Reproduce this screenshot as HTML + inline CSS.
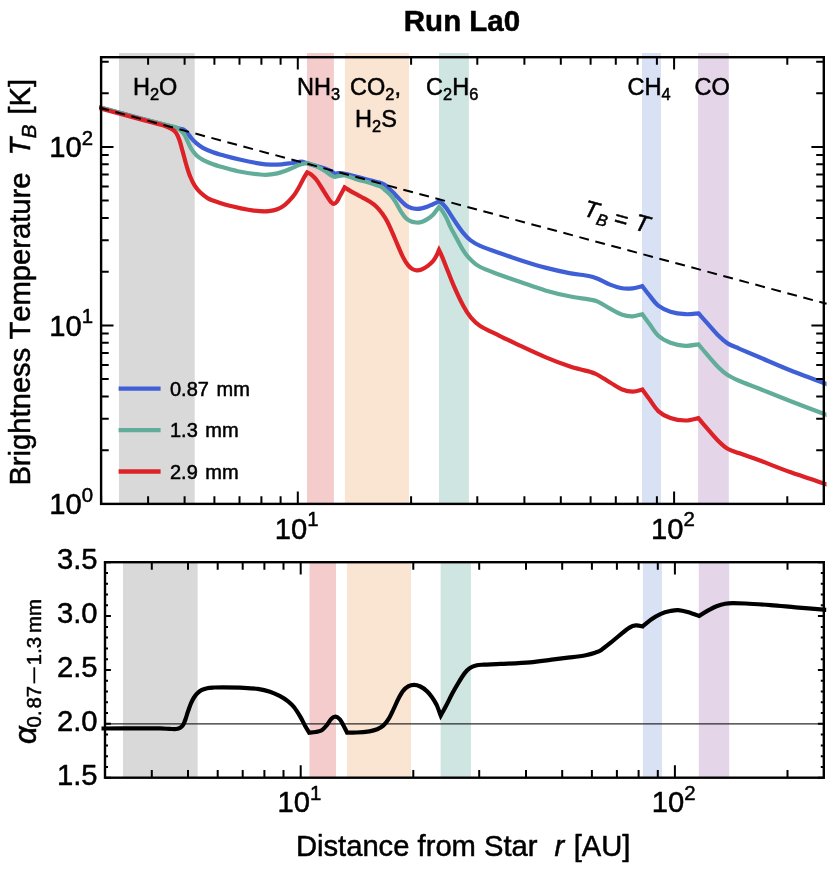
<!DOCTYPE html><html><head><meta charset="utf-8"><title>Run La0</title><style>html,body{margin:0;padding:0;background:#fff}svg{display:block;will-change:transform}text{font-family:"Liberation Sans",sans-serif;fill:#000;font-kerning:none;stroke:#000;stroke-width:0.5px;stroke-linejoin:round}</style></head><body>
<svg width="830" height="872" viewBox="0 0 830 872">
<rect width="830" height="872" fill="#fff"/>
<rect x="119.0" y="53.0" width="75.7" height="450.9" fill="#d9d9d9"/>
<rect x="307.0" y="53.0" width="26.9" height="450.9" fill="#f5cccc"/>
<rect x="344.9" y="53.0" width="64.0" height="450.9" fill="#fae4d2"/>
<rect x="439.0" y="53.0" width="29.9" height="450.9" fill="#cfe5e2"/>
<rect x="642.0" y="53.0" width="19.0" height="450.9" fill="#d9e1f5"/>
<rect x="698.1" y="53.0" width="30.7" height="450.9" fill="#e5d5e9"/>
<rect x="123.0" y="562.2" width="74.6" height="215.5" fill="#d9d9d9"/>
<rect x="309.5" y="562.2" width="26.5" height="215.5" fill="#f5cccc"/>
<rect x="347.1" y="562.2" width="63.9" height="215.5" fill="#fae4d2"/>
<rect x="440.6" y="562.2" width="30.3" height="215.5" fill="#cfe5e2"/>
<rect x="642.9" y="562.2" width="19.0" height="215.5" fill="#d9e1f5"/>
<rect x="698.8" y="562.2" width="30.4" height="215.5" fill="#e5d5e9"/>
<defs><clipPath id="cl"><rect x="99.3" y="40" width="727.2" height="760"/></clipPath></defs>
<path d="M95.3 106.1C102.8 108.1 126.2 114.5 140.0 118.2C153.8 121.9 170.7 126.3 178.0 128.2C185.3 130.1 182.4 129.0 184.0 129.8C185.6 130.7 186.4 131.9 187.7 133.3C188.9 134.7 190.0 136.7 191.5 138.4C193.0 140.1 194.7 141.8 196.6 143.4C198.5 145.0 200.2 146.3 202.9 147.8C205.6 149.3 209.2 150.8 213.0 152.2C216.8 153.6 221.0 154.7 225.6 156.0C230.2 157.3 235.0 158.5 240.7 159.8C246.4 161.1 255.0 162.8 260.0 163.6C265.0 164.4 267.2 164.5 270.8 164.6C274.4 164.7 278.1 164.6 281.7 164.3C285.3 164.0 289.2 163.4 292.5 163.0C295.8 162.6 298.8 161.6 301.2 161.6C303.6 161.6 304.3 162.3 306.6 163.0C308.9 163.7 311.9 164.7 315.0 165.6C318.1 166.5 322.4 167.6 325.0 168.5C327.6 169.4 328.9 170.0 330.5 170.8C332.1 171.6 333.5 173.0 334.8 173.4C336.1 173.8 337.2 173.2 338.5 173.2C339.8 173.2 339.6 172.8 342.4 173.3C345.1 173.8 350.4 175.1 355.0 176.3C359.6 177.5 365.6 179.2 370.0 180.4C374.4 181.6 378.7 182.3 381.4 183.2C384.1 184.1 384.5 184.7 386.0 185.8C387.5 186.9 389.0 188.4 390.6 190.0C392.2 191.6 394.1 193.4 395.8 195.2C397.5 197.0 399.3 199.1 401.0 200.8C402.7 202.5 404.4 204.3 406.1 205.5C407.8 206.7 409.6 207.5 411.3 208.1C413.0 208.7 414.8 208.8 416.5 208.9C418.2 209.0 419.7 208.8 421.6 208.4C423.5 208.0 425.9 207.2 427.8 206.5C429.7 205.8 431.1 205.0 433.0 204.2C434.9 203.3 438.0 201.9 439.0 201.4C439.6 201.8 441.1 202.5 442.3 203.6C443.5 204.7 445.1 206.4 446.4 208.1C447.7 209.8 448.4 211.2 450.0 213.7C451.6 216.2 453.9 219.8 456.1 223.0C458.3 226.2 461.0 230.2 463.4 233.1C465.8 236.0 467.8 238.3 470.6 240.4C473.4 242.5 475.4 243.8 480.2 245.9C485.0 248.0 492.7 250.7 499.5 253.1C506.3 255.5 513.6 258.0 521.2 260.4C528.8 262.8 537.3 265.5 545.3 267.6C553.3 269.7 562.2 271.7 569.4 273.1C576.6 274.5 583.9 275.0 588.7 276.0C593.5 277.0 594.7 277.6 598.3 279.0C601.9 280.4 606.1 283.1 610.1 284.6C614.1 286.2 618.4 287.7 622.2 288.3C626.0 288.9 629.4 288.7 632.7 288.3C636.1 287.9 640.7 286.5 642.3 286.1C643.5 287.6 646.6 291.9 649.3 295.2C652.0 298.5 654.8 302.9 658.3 305.7C661.8 308.4 665.9 310.3 670.4 311.7C674.9 313.1 680.7 313.9 685.4 314.2C690.1 314.5 696.2 313.4 698.4 313.3C699.8 314.8 703.1 318.6 706.5 322.3C709.9 326.1 715.1 332.3 718.6 335.8C722.1 339.3 724.1 341.2 727.6 343.4C731.1 345.6 734.1 346.4 739.6 348.8C745.1 351.2 752.2 354.2 760.7 357.8C769.2 361.4 779.2 365.9 790.8 370.5C802.4 375.1 823.8 383.0 830.4 385.5" stroke="#3f5fd6" stroke-width="4.2" fill="none" stroke-linejoin="miter" stroke-linecap="butt" clip-path="url(#cl)"/>
<path d="M95.3 106.1C102.8 108.1 127.1 114.8 140.0 118.2C152.9 121.6 166.1 124.7 172.6 126.5C179.1 128.3 177.0 127.7 178.9 128.9C180.8 130.2 182.5 131.9 184.0 134.0C185.5 136.1 186.4 139.0 187.7 141.5C188.9 144.0 190.0 146.8 191.5 149.1C193.0 151.4 194.7 153.6 196.6 155.4C198.5 157.2 200.2 158.3 202.9 159.8C205.6 161.3 209.2 162.8 213.0 164.2C216.8 165.6 221.0 166.7 225.6 168.0C230.2 169.3 235.0 170.7 240.7 171.8C246.4 172.9 255.3 174.0 260.0 174.5C264.7 175.0 265.8 174.9 268.7 174.7C271.6 174.5 274.6 174.0 277.3 173.4C280.0 172.8 282.4 172.0 284.9 171.1C287.4 170.2 290.1 168.9 292.5 167.9C294.9 166.9 296.8 165.8 299.0 165.0C301.2 164.2 304.8 163.5 306.0 163.2C306.8 163.4 308.9 163.6 311.0 164.3C313.1 165.0 316.3 166.2 318.6 167.3C320.9 168.4 323.0 169.8 325.0 171.1C327.0 172.4 328.9 173.9 330.5 174.9C332.1 175.9 333.4 176.7 334.8 176.8C336.2 177.0 337.4 176.0 339.2 175.8C341.0 175.6 342.5 174.9 345.5 175.5C348.5 176.1 353.2 178.3 357.1 179.5C361.0 180.7 364.9 181.3 368.7 182.5C372.5 183.7 377.6 185.2 380.2 186.4C382.8 187.6 382.8 188.1 384.5 189.6C386.2 191.1 388.7 193.1 390.6 195.2C392.5 197.3 394.1 199.7 395.8 202.4C397.5 205.2 399.3 209.0 401.0 211.7C402.7 214.4 404.4 216.8 406.1 218.4C407.8 220.0 409.6 220.8 411.3 221.5C413.0 222.2 414.8 222.4 416.5 222.5C418.2 222.6 419.7 222.6 421.6 222.0C423.5 221.4 425.9 220.1 427.8 218.9C429.7 217.7 431.5 216.3 433.0 214.8C434.5 213.3 435.6 211.4 436.6 210.1C437.6 208.8 438.6 207.5 439.0 207.0C439.6 207.6 441.1 209.0 442.3 210.8C443.5 212.6 445.1 215.4 446.4 217.9C447.7 220.4 448.4 222.8 450.0 226.1C451.6 229.4 453.9 233.4 456.1 237.5C458.3 241.6 461.0 247.0 463.4 250.7C465.8 254.4 467.8 256.9 470.6 259.6C473.4 262.3 475.4 264.5 480.2 267.0C485.0 269.5 492.7 272.1 499.5 274.7C506.3 277.2 513.6 279.7 521.2 282.3C528.8 284.9 537.3 288.1 545.3 290.4C553.3 292.7 562.2 294.8 569.4 296.3C576.6 297.8 583.9 298.5 588.7 299.4C593.5 300.3 594.7 300.2 598.3 301.8C601.9 303.4 606.1 306.5 610.1 308.7C614.1 310.9 618.4 313.5 622.2 314.8C626.0 316.1 629.4 316.4 632.7 316.3C636.1 316.2 640.7 314.6 642.3 314.2C643.5 315.8 646.6 320.2 649.3 323.8C652.0 327.4 654.8 332.6 658.3 335.8C661.8 339.0 665.9 341.1 670.4 342.8C674.9 344.5 680.7 345.6 685.4 345.8C690.1 346.1 696.2 344.6 698.4 344.3C699.8 345.9 703.1 350.0 706.5 353.9C709.9 357.8 715.1 364.0 718.6 367.5C722.1 371.0 724.1 372.8 727.6 375.0C731.1 377.2 734.1 378.6 739.6 381.0C745.1 383.4 752.2 385.8 760.7 389.2C769.2 392.6 779.2 396.7 790.8 401.2C802.4 405.7 823.8 413.8 830.4 416.3" stroke="#62ad99" stroke-width="4.2" fill="none" stroke-linejoin="miter" stroke-linecap="butt" clip-path="url(#cl)"/>
<path d="M95.3 107.0C102.8 109.0 129.2 116.2 140.0 119.1C150.8 122.0 155.4 123.2 160.0 124.5C164.6 125.8 165.5 126.2 167.6 127.0C169.7 127.8 171.1 128.4 172.6 129.5C174.1 130.6 175.2 131.5 176.4 133.3C177.6 135.1 178.4 137.2 179.5 140.3C180.6 143.4 181.5 147.4 182.7 151.6C183.9 155.8 185.2 161.3 186.5 165.5C187.8 169.7 188.9 173.4 190.3 176.8C191.7 180.2 193.0 183.1 194.7 185.7C196.4 188.3 198.2 190.5 200.4 192.6C202.6 194.7 204.8 196.6 207.9 198.3C211.1 200.0 215.1 201.3 219.3 202.7C223.5 204.1 228.3 205.3 233.1 206.5C237.9 207.7 243.8 209.0 248.3 209.8C252.8 210.6 256.6 211.0 260.0 211.2C263.4 211.4 265.8 211.5 268.7 211.2C271.6 210.9 274.6 210.4 277.3 209.3C280.0 208.2 282.4 206.8 284.9 204.8C287.4 202.8 290.3 199.8 292.5 197.2C294.7 194.6 296.2 192.1 298.0 189.0C299.8 185.9 301.9 181.5 303.4 178.7C304.9 175.9 306.6 173.4 307.2 172.4C307.8 172.7 309.5 173.2 311.0 174.4C312.5 175.6 314.6 177.5 316.4 179.8C318.2 182.1 320.0 185.2 321.8 188.0C323.6 190.8 325.7 194.3 327.2 196.6C328.7 198.9 329.9 200.8 331.0 202.0C332.1 203.2 332.7 204.0 333.7 203.9C334.7 203.8 335.9 202.9 337.0 201.5C338.1 200.1 338.9 197.8 340.2 195.5C341.5 193.2 343.9 188.8 344.6 187.4C346.1 188.3 350.2 191.0 353.3 192.7C356.4 194.4 360.1 196.3 362.9 197.8C365.7 199.3 367.8 200.4 370.0 201.8C372.2 203.2 374.1 204.5 376.2 206.5C378.3 208.5 380.5 211.1 382.4 213.7C384.3 216.3 385.8 218.7 387.5 222.0C389.2 225.3 391.0 229.5 392.7 233.4C394.4 237.3 396.2 241.8 397.9 245.7C399.6 249.6 401.3 253.8 403.0 257.1C404.7 260.4 406.6 263.4 408.2 265.4C409.8 267.4 410.9 268.2 412.3 269.0C413.7 269.8 414.9 270.2 416.5 270.3C418.1 270.4 419.7 270.2 421.6 269.5C423.5 268.8 425.9 267.3 427.8 265.9C429.7 264.5 431.5 262.9 433.0 261.2C434.5 259.5 435.6 257.4 436.6 255.5C437.6 253.6 438.6 250.8 439.0 249.9C439.6 251.1 441.1 254.2 442.3 257.1C443.5 260.0 444.5 262.6 446.4 267.4C448.3 272.2 450.9 279.2 453.7 285.7C456.5 292.1 460.6 300.9 463.4 306.1C466.2 311.4 467.8 313.9 470.6 317.2C473.4 320.5 475.4 322.9 480.2 326.0C485.0 329.1 492.7 332.4 499.5 335.8C506.3 339.2 513.6 342.6 521.2 346.2C528.8 349.8 537.3 353.8 545.3 357.1C553.3 360.5 563.6 364.3 569.4 366.3C575.2 368.3 575.7 368.1 580.0 369.3C584.3 370.5 590.1 371.4 595.1 373.6C600.1 375.8 605.6 379.9 610.1 382.5C614.6 385.1 618.4 388.0 622.2 389.5C626.0 391.0 629.4 391.6 632.7 391.6C636.1 391.6 640.7 389.9 642.3 389.5C643.5 391.1 646.6 395.5 649.3 399.1C652.0 402.7 654.8 407.9 658.3 411.1C661.8 414.3 665.9 416.5 670.4 418.1C674.9 419.7 680.7 420.5 685.4 420.5C690.1 420.5 696.2 418.5 698.4 418.1C699.8 419.7 703.1 423.8 706.5 427.7C709.9 431.6 715.1 437.8 718.6 441.3C722.1 444.8 724.1 446.8 727.6 448.8C731.1 450.8 734.1 451.3 739.6 453.3C745.1 455.3 752.2 457.6 760.7 460.8C769.2 464.0 779.2 468.2 790.8 472.3C802.4 476.4 823.8 483.4 830.4 485.6" stroke="#dc2127" stroke-width="4.2" fill="none" stroke-linejoin="miter" stroke-linecap="butt" clip-path="url(#cl)"/>
<path d="M99.4 107.7L826.6 303.8" stroke="#000" stroke-width="2" stroke-dasharray="9.9 6.67" fill="none"/>
<path d="M105.0 723.8H823.8" stroke="#2a2a2a" stroke-width="1.2"/>
<path d="M101.5 728.5C107.9 728.5 130.2 728.4 140.0 728.4C149.8 728.4 155.1 728.3 160.0 728.4C164.9 728.5 166.9 728.8 169.6 728.9C172.3 729.0 174.6 729.2 176.4 729.0C178.2 728.8 179.1 728.5 180.2 727.8C181.3 727.1 182.2 726.3 183.1 724.9C184.0 723.5 184.7 721.5 185.5 719.2C186.3 717.0 187.1 714.0 188.0 711.4C188.9 708.8 189.9 705.9 190.8 703.7C191.8 701.5 192.6 699.7 193.7 698.0C194.8 696.3 195.8 694.9 197.1 693.6C198.4 692.3 199.7 691.1 201.4 690.2C203.1 689.3 205.1 688.8 207.2 688.3C209.3 687.8 211.4 687.7 214.0 687.5C216.6 687.3 218.4 687.3 222.7 687.3C227.0 687.3 234.2 687.4 240.0 687.7C245.8 688.0 252.7 688.2 257.7 688.9C262.7 689.6 266.4 690.5 270.0 691.7C273.6 692.9 276.6 694.3 279.6 695.9C282.6 697.5 285.7 699.4 288.1 701.3C290.5 703.2 292.1 704.8 294.1 707.3C296.1 709.8 298.3 713.4 300.1 716.4C301.9 719.4 303.4 722.7 304.9 725.4C306.4 728.1 308.5 731.5 309.2 732.7C310.3 732.6 313.7 732.4 315.8 732.0C317.9 731.6 320.0 731.3 321.8 730.2C323.6 729.1 325.0 727.3 326.6 725.4C328.2 723.5 329.9 720.2 331.4 718.8C332.9 717.3 334.3 716.6 335.7 716.7C337.1 716.8 338.6 718.0 339.9 719.4C341.2 720.8 342.3 723.2 343.5 725.4C344.7 727.6 346.5 731.5 347.1 732.7C348.7 732.7 353.0 732.7 356.7 732.5C360.4 732.3 366.0 731.8 369.4 731.3C372.8 730.8 374.8 730.3 377.2 729.3C379.6 728.3 381.5 727.2 383.5 725.4C385.5 723.6 387.3 721.0 389.0 718.3C390.7 715.5 392.1 712.2 393.7 708.9C395.3 705.6 396.8 701.7 398.4 698.7C400.0 695.7 401.4 693.0 403.1 690.9C404.8 688.8 406.8 687.2 408.6 686.2C410.4 685.2 412.1 684.9 414.0 684.9C415.9 684.9 418.2 685.5 420.3 686.5C422.4 687.5 424.7 689.1 426.6 690.9C428.6 692.7 430.3 694.9 432.0 697.2C433.7 699.6 435.2 701.9 436.7 705.0C438.1 708.1 440.0 713.8 440.7 715.6C441.6 714.0 444.2 709.5 446.1 705.8C448.1 702.1 450.3 697.2 452.4 693.3C454.5 689.4 456.6 685.7 458.7 682.3C460.8 678.9 463.1 675.2 464.9 672.9C466.7 670.5 467.8 669.4 469.6 668.2C471.4 667.0 473.5 666.1 475.9 665.5C478.2 664.9 479.5 664.9 483.7 664.6C487.9 664.3 493.1 664.3 500.8 663.9C508.5 663.5 521.5 663.0 530.0 662.3C538.5 661.6 545.0 660.4 551.7 659.6C558.4 658.8 564.3 658.1 570.0 657.4C575.7 656.7 581.5 656.0 585.7 655.2C589.9 654.4 592.5 653.6 595.1 652.7C597.7 651.8 598.7 651.6 601.3 649.9C603.9 648.2 607.6 645.2 610.7 642.7C613.8 640.2 617.0 637.3 620.1 634.8C623.2 632.3 626.9 629.2 629.5 627.6C632.1 626.0 633.6 625.6 635.8 625.4C638.0 625.2 641.6 626.2 642.7 626.4C644.2 625.2 648.5 621.3 651.5 619.2C654.5 617.1 657.8 615.2 660.9 613.8C664.0 612.4 667.4 611.6 670.3 611.0C673.2 610.4 675.2 609.9 678.1 610.1C681.0 610.3 684.0 611.0 687.5 612.0C691.0 613.0 697.2 615.3 699.1 616.0C700.5 615.1 704.8 612.4 707.8 610.7C710.8 609.0 714.3 607.1 717.2 606.0C720.1 604.9 722.5 604.3 725.1 603.8C727.7 603.3 729.5 603.2 732.9 603.2C736.3 603.2 739.1 603.2 745.4 603.5C751.7 603.8 762.1 604.5 770.5 605.1C778.9 605.7 786.3 606.5 795.6 607.3C804.9 608.1 821.3 609.5 826.4 609.9" stroke="#000" stroke-width="4.2" fill="none" stroke-linejoin="miter" clip-path="url(#cl)"/>
<path d="M101.1 503.9v-7.6M101.1 57.2v7.6M105.0 777.7v-7.6M105.0 562.2v7.6M148.1 503.9v-7.6M148.1 57.2v7.6M151.8 777.7v-7.6M151.8 562.2v7.6M184.6 503.9v-7.6M184.6 57.2v7.6M188.0 777.7v-7.6M188.0 562.2v7.6M214.4 503.9v-7.6M214.4 57.2v7.6M217.7 777.7v-7.6M217.7 562.2v7.6M239.5 503.9v-7.6M239.5 57.2v7.6M242.7 777.7v-7.6M242.7 562.2v7.6M261.4 503.9v-7.6M261.4 57.2v7.6M264.4 777.7v-7.6M264.4 562.2v7.6M280.6 503.9v-7.6M280.6 57.2v7.6M283.5 777.7v-7.6M283.5 562.2v7.6M297.8 503.9v-12.4M297.8 57.2v12.4M300.7 777.7v-12.4M300.7 562.2v12.4M411.1 503.9v-7.6M411.1 57.2v7.6M413.3 777.7v-7.6M413.3 562.2v7.6M477.3 503.9v-7.6M477.3 57.2v7.6M479.2 777.7v-7.6M479.2 562.2v7.6M524.4 503.9v-7.6M524.4 57.2v7.6M526.0 777.7v-7.6M526.0 562.2v7.6M560.8 503.9v-7.6M560.8 57.2v7.6M562.2 777.7v-7.6M562.2 562.2v7.6M590.6 503.9v-7.6M590.6 57.2v7.6M591.9 777.7v-7.6M591.9 562.2v7.6M615.8 503.9v-7.6M615.8 57.2v7.6M616.9 777.7v-7.6M616.9 562.2v7.6M637.6 503.9v-7.6M637.6 57.2v7.6M638.6 777.7v-7.6M638.6 562.2v7.6M656.9 503.9v-7.6M656.9 57.2v7.6M657.8 777.7v-7.6M657.8 562.2v7.6M674.1 503.9v-12.4M674.1 57.2v12.4M674.9 777.7v-12.4M674.9 562.2v12.4M787.3 503.9v-7.6M787.3 57.2v7.6M787.5 777.7v-7.6M787.5 562.2v7.6M101.1 503.9h12.4M823.8 503.9h-12.4M101.1 450.2h7.6M823.8 450.2h-7.6M101.1 418.7h7.6M823.8 418.7h-7.6M101.1 396.4h7.6M823.8 396.4h-7.6M101.1 379.1h7.6M823.8 379.1h-7.6M101.1 365.0h7.6M823.8 365.0h-7.6M101.1 353.0h7.6M823.8 353.0h-7.6M101.1 342.7h7.6M823.8 342.7h-7.6M101.1 333.6h7.6M823.8 333.6h-7.6M101.1 325.4h12.4M823.8 325.4h-12.4M101.1 271.7h7.6M823.8 271.7h-7.6M101.1 240.2h7.6M823.8 240.2h-7.6M101.1 217.9h7.6M823.8 217.9h-7.6M101.1 200.6h7.6M823.8 200.6h-7.6M101.1 186.5h7.6M823.8 186.5h-7.6M101.1 174.5h7.6M823.8 174.5h-7.6M101.1 164.2h7.6M823.8 164.2h-7.6M101.1 155.1h7.6M823.8 155.1h-7.6M101.1 146.9h12.4M823.8 146.9h-12.4M101.1 93.2h7.6M823.8 93.2h-7.6M101.1 61.7h7.6M823.8 61.7h-7.6M105.0 777.7h5.9M823.8 777.7h-5.9M105.0 766.9h3.0M823.8 766.9h-3.0M105.0 756.2h3.0M823.8 756.2h-3.0M105.0 745.4h3.0M823.8 745.4h-3.0M105.0 734.6h3.0M823.8 734.6h-3.0M105.0 723.8h5.9M823.8 723.8h-5.9M105.0 713.1h3.0M823.8 713.1h-3.0M105.0 702.3h3.0M823.8 702.3h-3.0M105.0 691.5h3.0M823.8 691.5h-3.0M105.0 680.7h3.0M823.8 680.7h-3.0M105.0 670.0h5.9M823.8 670.0h-5.9M105.0 659.2h3.0M823.8 659.2h-3.0M105.0 648.4h3.0M823.8 648.4h-3.0M105.0 637.6h3.0M823.8 637.6h-3.0M105.0 626.9h3.0M823.8 626.9h-3.0M105.0 616.1h5.9M823.8 616.1h-5.9M105.0 605.3h3.0M823.8 605.3h-3.0M105.0 594.5h3.0M823.8 594.5h-3.0M105.0 583.8h3.0M823.8 583.8h-3.0M105.0 573.0h3.0M823.8 573.0h-3.0M105.0 562.2h5.9M823.8 562.2h-5.9" stroke="#000" stroke-width="2" fill="none"/>
<rect x="101.1" y="57.2" width="722.7" height="446.7" fill="none" stroke="#000" stroke-width="2.4"/>
<rect x="105.0" y="562.2" width="718.8" height="215.5" fill="none" stroke="#000" stroke-width="2.4"/>
<text x="462" y="31" font-size="29.5" font-weight="bold" text-anchor="middle" stroke-width="0.3">Run La0</text>
<text x="155.2" y="95.0" font-size="23.5" text-anchor="middle" stroke-width="0.35">H<tspan font-size="16.4" dy="5">2</tspan><tspan dy="-5">O</tspan></text>
<text x="318.5" y="95.0" font-size="23.5" text-anchor="middle" stroke-width="0.35">NH<tspan font-size="16.4" dy="5">3</tspan></text>
<text x="375.5" y="95.0" font-size="23.5" text-anchor="middle" stroke-width="0.35">CO<tspan font-size="16.4" dy="5">2</tspan><tspan dy="-5">,</tspan></text>
<text x="376.0" y="127.0" font-size="23.5" text-anchor="middle" stroke-width="0.35">H<tspan font-size="16.4" dy="5">2</tspan><tspan dy="-5">S</tspan></text>
<text x="452.2" y="95.0" font-size="23.5" text-anchor="middle" stroke-width="0.35">C<tspan font-size="16.4" dy="5">2</tspan><tspan dy="-5">H</tspan><tspan font-size="16.4" dy="5">6</tspan></text>
<text x="649.0" y="95.0" font-size="23.5" text-anchor="middle" stroke-width="0.35">CH<tspan font-size="16.4" dy="5">4</tspan></text>
<text x="712.2" y="95.0" font-size="23.5" text-anchor="middle" stroke-width="0.35">CO</text>
<text transform="translate(582.6,215.6) rotate(15)" font-size="23.5" font-style="italic" stroke-width="0.35">T<tspan font-size="16.45" dy="5">B</tspan><tspan dy="-3.8" font-style="normal" dx="-0.4"> = </tspan><tspan dx="0.8" dy="-1.2">T</tspan></text>
<path d="M118.6 388.6H160.6" stroke="#3f5fd6" stroke-width="4.4"/>
<text x="170" y="395.6" font-size="20" word-spacing="2" stroke-width="0.35">0.87 mm</text>
<path d="M118.6 430.1H160.6" stroke="#62ad99" stroke-width="4.4"/>
<text x="170" y="437.1" font-size="20" word-spacing="2" stroke-width="0.35">1.3 mm</text>
<path d="M118.6 471.5H160.6" stroke="#dc2127" stroke-width="4.4"/>
<text x="170" y="478.5" font-size="20" word-spacing="2" stroke-width="0.35">2.9 mm</text>
<text x="93.0" y="157.2" font-size="29.2" text-anchor="end">10<tspan font-size="20.4" dy="-12.7">2</tspan></text>
<text x="93.0" y="335.7" font-size="29.2" text-anchor="end">10<tspan font-size="20.4" dy="-12.7">1</tspan></text>
<text x="93.0" y="514.2" font-size="29.2" text-anchor="end">10<tspan font-size="20.4" dy="-12.7">0</tspan></text>
<text x="296.6" y="538.6" font-size="29.2" text-anchor="middle">10<tspan font-size="20.4" dy="-12.7">1</tspan></text>
<text x="672.9" y="538.6" font-size="29.2" text-anchor="middle">10<tspan font-size="20.4" dy="-12.7">2</tspan></text>
<text x="299.5" y="812.3" font-size="29.2" text-anchor="middle">10<tspan font-size="20.4" dy="-12.7">1</tspan></text>
<text x="673.7" y="812.3" font-size="29.2" text-anchor="middle">10<tspan font-size="20.4" dy="-12.7">2</tspan></text>
<text x="97.6" y="784.9" font-size="29.2" text-anchor="end">1.5</text>
<text x="97.6" y="731.0" font-size="29.2" text-anchor="end">2.0</text>
<text x="97.6" y="677.2" font-size="29.2" text-anchor="end">2.5</text>
<text x="97.6" y="623.3" font-size="29.2" text-anchor="end">3.0</text>
<text x="97.6" y="569.4" font-size="29.2" text-anchor="end">3.5</text>
<text transform="translate(29.8,485.6) rotate(-90)" font-size="29.2" >Brightness Temperature</text>
<text transform="translate(30.0,155.5) rotate(-90)" font-size="29.2" font-style="italic">T</text>
<text transform="translate(36.0,138.3) rotate(-90)" font-size="20.4" font-style="italic">B</text>
<text transform="translate(30.0,114.5) rotate(-90)" font-size="29.2" >[K]</text>
<text x="295.9" y="855.5" font-size="29.2">Distance from Star</text>
<text x="554.5" y="855.5" font-size="29.2" font-style="italic">r</text>
<text x="573.7" y="855.5" font-size="29.2">[AU]</text>
<text transform="translate(35.6,744.0) rotate(-90)" font-size="31.2" font-style="italic">α</text>
<text transform="translate(41.0,727.4) rotate(-90)" font-size="20.4" >0.</text>
<text transform="translate(41.0,708.6) rotate(-90)" font-size="20.4" >87</text>
<rect x="33.4" y="667.3" width="1.8" height="16.1" fill="#000"/>
<text transform="translate(41.0,665.2) rotate(-90)" font-size="20.4" >1.3</text>
<text transform="translate(41.0,633.0) rotate(-90)" font-size="20.4" >mm</text>
</svg></body></html>
